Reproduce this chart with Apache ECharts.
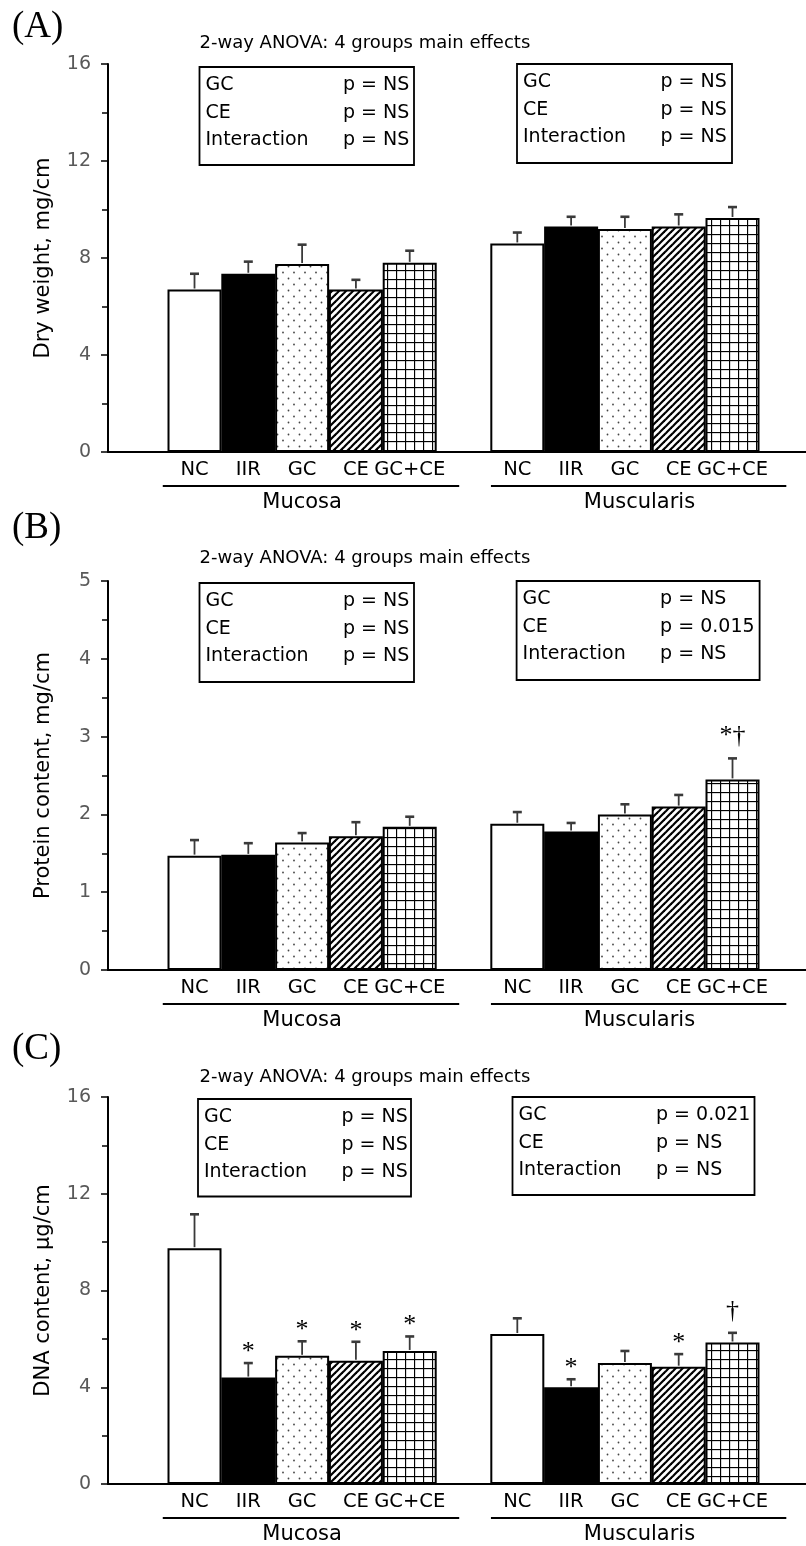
<!DOCTYPE html>
<html>
<head>
<meta charset="utf-8">
<script src="https://cdn.jsdelivr.net/npm/echarts@6/dist/echarts.min.js"></script>
<style>
html,body{margin:0;padding:0;background:#fff;}
#chart{width:806px;height:1546px;}
</style>
</head>
<body>
<div id="chart"></div>
<script>
// ---------------- data ----------------
const categories = ['NC', 'IIR', 'GC', 'CE', 'GC+CE'];
const groups = ['Mucosa', 'Muscularis'];
const xPos = [1, 2, 3, 4, 5, 7, 8, 9, 10, 11];

const dryMean = [6.7, 7.35, 7.75, 6.7, 7.8, 8.6, 9.3, 9.2, 9.3, 9.65];
const drySE   = [0.65, 0.5, 0.8, 0.4, 0.5, 0.45, 0.4, 0.5, 0.5, 0.45];
const dryMarks = ['', '', '', '', '', '', '', '', '', ''];

const protMean = [1.47, 1.48, 1.64, 1.72, 1.84, 1.88, 1.78, 2.0, 2.1, 2.45];
const protSE   = [0.2, 0.15, 0.12, 0.18, 0.13, 0.15, 0.11, 0.13, 0.15, 0.27];
const protMarks = ['', '', '', '', '', '', '', '', '', '*†'];

const dnaMean = [9.75, 4.4, 5.3, 5.1, 5.5, 6.2, 4.0, 5.0, 4.85, 5.85];
const dnaSE   = [1.4, 0.6, 0.6, 0.78, 0.6, 0.65, 0.33, 0.5, 0.52, 0.4];
const dnaMarks = ['', '*', '*', '*', '*', '', '*', '', '*', '†'];

const yNames = ['Dry weight, mg/cm', 'Protein content, mg/cm', 'DNA content, μg/cm'];
const yMax = [16, 5, 16];
const yInterval = [4, 1, 4];
const panelLetters = ['(A)', '(B)', '(C)'];
const anovaTitle = '2-way ANOVA: 4 groups main effects';
const effectNames = ['GC', 'CE', 'Interaction'];
const pMucosa = [
  ['p = NS', 'p = NS', 'p = NS'],
  ['p = NS', 'p = NS', 'p = NS'],
  ['p = NS', 'p = NS', 'p = NS']
];
const pMuscularis = [
  ['p = NS', 'p = NS', 'p = NS'],
  ['p = NS', 'p = 0.015', 'p = NS'],
  ['p = 0.021', 'p = NS', 'p = NS']
];
const groupSpan = [[0.41, 5.92, 3.0], [6.51, 12.0, 9.27]];

const means = [dryMean, protMean, dnaMean];
const ses = [drySE, protSE, dnaSE];
const marks = [dryMarks, protMarks, dnaMarks];

// ---------------- layout / style ----------------
const SANS = 'DejaVu Sans';
const SERIF = 'Liberation Serif';
const xMin = -0.608, xMax = 12.366;
const layout = [
  {gridTop: 64, gridH: 388, letterY: 27, titleY: 43,
   boxes: [[199.5, 67, 214.5, 98], [517, 64, 215, 99]]},
  {gridTop: 581, gridH: 389, letterY: 528, titleY: 558,
   boxes: [[199.5, 583, 214.5, 99], [516.6, 581, 243, 99]]},
  {gridTop: 1097, gridH: 387, letterY: 1049, titleY: 1077,
   boxes: [[198, 1099, 213, 97.5], [512.5, 1097, 242, 98]]}
];

function makeTile(w, h, draw) {
  const c = document.createElement('canvas');
  c.width = w; c.height = h;
  const g = c.getContext('2d');
  g.fillStyle = '#fff';
  g.fillRect(0, 0, w, h);
  draw(g, w, h);
  return {image: c, repeat: 'repeat'};
}
const dots = makeTile(11, 12, (g) => {
  g.fillStyle = '#444';
  g.beginPath(); g.arc(2.5, 2.5, 0.9, 0, Math.PI * 2); g.fill();
  g.beginPath(); g.arc(8, 8.5, 0.9, 0, Math.PI * 2); g.fill();
});
const diag = makeTile(7, 7, (g, w, h) => {
  g.strokeStyle = '#000'; g.lineWidth = 2.2;
  for (const o of [-w, 0, w]) {
    g.beginPath(); g.moveTo(o - 1, h + 1); g.lineTo(o + w + 1, -1); g.stroke();
  }
});
const grid = makeTile(9, 9, (g) => {
  g.strokeStyle = '#000'; g.lineWidth = 1.3;
  g.beginPath(); g.moveTo(0.5, 0); g.lineTo(0.5, 9); g.stroke();
  g.beginPath(); g.moveTo(0, 0.5); g.lineTo(9, 0.5); g.stroke();
});
const fills = ['#ffffff', '#000000', dots, diag, grid];

// ---------------- build option ----------------
const grids = [], xAxes = [], yAxes = [], series = [], graphics = [];

layout.forEach((L, p) => {
  grids.push({left: 108, right: 0, top: L.gridTop, height: L.gridH, outerBoundsMode: 'none'});
  xAxes.push({
    type: 'value', gridIndex: p, min: xMin, max: xMax,
    axisLine: {show: true, onZero: false, lineStyle: {color: '#000', width: 2}},
    axisTick: {show: false}, splitLine: {show: false},
    axisLabel: {
      show: true, customValues: xPos, margin: 8,
      color: '#000', fontFamily: SANS, fontSize: 19.5,
      formatter: (v) => {
        const i = xPos.indexOf(Math.round(v));
        return i < 0 ? '' : categories[i % 5];
      }
    }
  });
  yAxes.push({
    type: 'value', gridIndex: p, min: 0, max: yMax[p], interval: yInterval[p],
    name: yNames[p], nameLocation: 'middle', nameGap: 54, nameRotate: 90,
    nameTextStyle: {fontFamily: SANS, fontSize: 21, color: '#000'},
    axisLine: {show: true, onZero: false, lineStyle: {color: '#000', width: 2}},
    axisTick: {show: true, length: 7, lineStyle: {color: '#000', width: 1.5}},
    minorTick: {show: true, splitNumber: 2, length: 6, lineStyle: {color: '#000', width: 1.5}},
    splitLine: {show: false}, minorSplitLine: {show: false},
    axisLabel: {color: '#595959', fontFamily: SANS, fontSize: 19, margin: 17}
  });

  const m = means[p], s = ses[p], mk = marks[p];
  series.push({
    type: 'bar', xAxisIndex: p, yAxisIndex: p, barWidth: 54, z: 2,
    animation: false,
    itemStyle: {borderColor: '#000', borderWidth: 2},
    data: xPos.map((x, i) => ({value: [x, m[i]], itemStyle: {color: fills[i % 5]}}))
  });
  series.push({
    type: 'custom', xAxisIndex: p, yAxisIndex: p, z: 3, animation: false,
    encode: {x: 0, y: 2},
    data: xPos.map((x, i) => [x, m[i], m[i] + s[i]]),
    renderItem: (params, api) => {
      const x = api.value(0);
      const p0 = api.coord([x, api.value(1)]);
      const p1 = api.coord([x, api.value(2)]);
      return {type: 'group', children: [
        {type: 'line', shape: {x1: p0[0], y1: p0[1] - 1, x2: p1[0], y2: p1[1]},
         style: {stroke: '#3a3a3a', lineWidth: 1.8}},
        {type: 'line', shape: {x1: p1[0] - 4.5, y1: p1[1], x2: p1[0] + 4.5, y2: p1[1]},
         style: {stroke: '#3a3a3a', lineWidth: 2.6}}
      ]};
    }
  });
  const markIdx = xPos.map((x, i) => i).filter(i => mk[i]);
  series.push({
    type: 'custom', xAxisIndex: p, yAxisIndex: p, z: 4, animation: false,
    encode: {x: 0, y: 1},
    data: markIdx.map(i => [xPos[i], m[i] + s[i]]),
    renderItem: (params, api) => {
      const i = markIdx[params.dataIndex];
      const pt = api.coord([api.value(0), api.value(1)]);
      const lift = mk[i].indexOf('†') >= 0 ? 9 : -2;
      return {type: 'text', style: {
        text: mk[i], x: pt[0], y: pt[1] - lift,
        font: '26px "' + SERIF + '"', fill: '#000',
        textAlign: 'center', textVerticalAlign: 'bottom', align: 'center', verticalAlign: 'bottom'
      }};
    }
  });
  series.push({
    type: 'custom', xAxisIndex: p, yAxisIndex: p, z: 4, animation: false, clip: false,
    encode: {x: [0, 1]},
    data: groupSpan.map(g => [g[0], g[1], g[2]]),
    renderItem: (params, api) => {
      const a = api.coord([api.value(0), 0]);
      const b = api.coord([api.value(1), 0]);
      const c = api.coord([api.value(2), 0]);
      return {type: 'group', children: [
        {type: 'line', shape: {x1: a[0], y1: a[1] + 34, x2: b[0], y2: b[1] + 34},
         style: {stroke: '#000', lineWidth: 2}},
        {type: 'text', style: {
          text: groups[params.dataIndex], x: c[0], y: c[1] + 51,
          font: '21px "' + SANS + '"', fill: '#000',
          textAlign: 'center', textVerticalAlign: 'middle', align: 'center', verticalAlign: 'middle'
        }}
      ]};
    }
  });

  // panel letter and ANOVA title
  graphics.push({type: 'text', x: 12, y: L.letterY, style: {
    text: panelLetters[p], font: '37px "' + SERIF + '"', fill: '#000',
    textVerticalAlign: 'middle', verticalAlign: 'middle'}});
  graphics.push({type: 'text', x: 199.5, y: L.titleY, style: {
    text: anovaTitle, font: '18px "' + SANS + '"', fill: '#000',
    textVerticalAlign: 'middle', verticalAlign: 'middle'}});
  // result boxes
  [pMucosa[p], pMuscularis[p]].forEach((pv, b) => {
    const [bx, by, bw, bh] = L.boxes[b];
    graphics.push({type: 'rect', shape: {x: bx, y: by, width: bw, height: bh},
      style: {fill: '#fff', stroke: '#000', lineWidth: 1.8}, z: 10});
    effectNames.forEach((en, r) => {
      const ty = by + 18 + r * 27.6;
      graphics.push({type: 'text', x: bx + 6, y: ty, z: 11, style: {
        text: en, font: '19px "' + SANS + '"', fill: '#000',
        textVerticalAlign: 'middle', verticalAlign: 'middle'}});
      graphics.push({type: 'text', x: bx + 143.5, y: ty, z: 11, style: {
        text: pv[r], font: '19px "' + SANS + '"', fill: '#000',
        textVerticalAlign: 'middle', verticalAlign: 'middle'}});
    });
  });
});

const chart = echarts.init(document.getElementById('chart'), null, {renderer: 'canvas'});
chart.setOption({
  animation: false,
  backgroundColor: '#fff',
  grid: grids, xAxis: xAxes, yAxis: yAxes, series: series,
  graphic: {elements: graphics}
});
</script>
</body>
</html>
